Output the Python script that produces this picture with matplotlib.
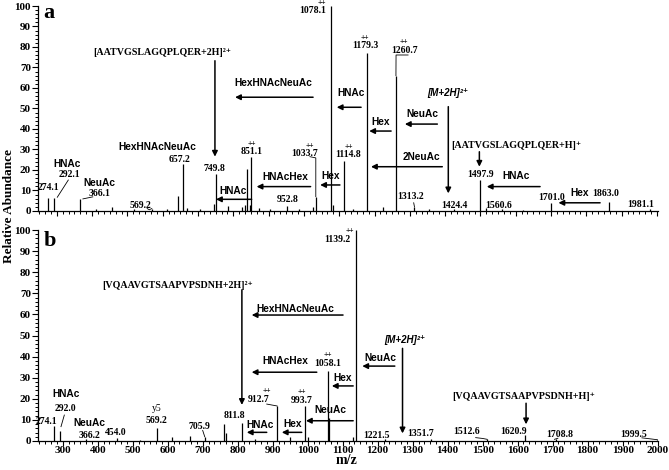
import matplotlib
matplotlib.use("Agg")
import matplotlib.pyplot as plt
from matplotlib.ticker import MultipleLocator, NullFormatter

SERIF = ["Liberation Serif", "DejaVu Serif"]
SANS = ["Liberation Sans", "DejaVu Sans"]

# ---------------- data ----------------
# panel a: m/z and relative abundance
mz_a = [274.1, 292.1, 366.1, 412.0, 455.0, 520.0, 569.2, 612.0, 642.0, 657.2,
        668.0, 705.0, 745.0, 749.8, 786.0, 826.0, 833.0, 840.0, 847.0, 851.1,
        872.0, 905.0, 952.8, 985.0, 1027.0, 1033.7, 1078.1, 1083.0, 1114.8,
        1140.0, 1179.3, 1225.0, 1260.7, 1313.2, 1355.0, 1424.4, 1497.9, 1515.0,
        1560.6, 1620.0, 1701.0, 1863.0, 1981.1]
int_a = [6.5, 6.5, 6.0, 0.8, 2.0, 0.8, 1.2, 1.0, 7.3, 23.0,
         1.5, 0.8, 3.4, 18.0, 2.5, 2.0, 3.0, 20.3, 3.0, 26.5,
         1.5, 1.0, 2.2, 1.0, 2.0, 7.0, 100.0, 3.0, 24.5,
         1.0, 77.0, 2.0, 66.0, 2.0, 1.0, 1.0, 15.0, 1.5,
         0.8, 0.6, 3.8, 4.5, 0.8]

# panel b
mz_b = [274.1, 292.0, 366.2, 454.0, 520.0, 569.2, 611.0, 664.0, 705.9, 760.0,
        767.0, 811.8, 850.0, 912.7, 950.0, 993.7, 1000.0, 1058.1, 1062.0, 1130.0,
        1139.2, 1221.5, 1351.7, 1512.6, 1620.9, 1708.8, 1999.5]
int_b = [7.1, 4.7, 1.0, 1.2, 0.6, 6.0, 1.8, 2.4, 2.0, 7.9,
         4.0, 8.7, 1.0, 16.6, 2.0, 16.5, 2.0, 33.0, 11.0, 2.0,
         100.0, 1.0, 0.8, 0.8, 3.0, 0.8, 0.6]

y_ticks = [0, 10, 20, 30, 40, 50, 60, 70, 80, 90, 100]
x_ticks = [300, 400, 500, 600, 700, 800, 900, 1000, 1100, 1200, 1300, 1400,
           1500, 1600, 1700, 1800, 1900, 2000]

# ---------------- figure ----------------
fig = plt.figure(figsize=(6.69, 4.70), dpi=100)
W, H = 669.0, 470.0
axa = fig.add_axes([38 / W, 1 - 211 / H, 620 / W, 205 / H])
axb = fig.add_axes([38 / W, 1 - 441 / H, 620 / W, 211 / H])


def style_axis(ax, xlim, show_xlabels):
    ax.set_xlim(*xlim)
    ax.set_ylim(0, 100)
    for s in ("top", "right"):
        ax.spines[s].set_visible(False)
    for s in ("left", "bottom"):
        ax.spines[s].set_linewidth(0.9)
    ax.set_yticks(y_ticks)
    ax.set_yticklabels([str(t) for t in y_ticks])
    ax.yaxis.set_minor_locator(MultipleLocator(2))
    ax.set_xticks(x_ticks)
    ax.xaxis.set_minor_locator(MultipleLocator(100 / 6))
    if show_xlabels:
        ax.set_xticklabels([str(t) for t in x_ticks])
    else:
        ax.xaxis.set_major_formatter(NullFormatter())
    ax.tick_params(axis="y", which="major", direction="out", length=4,
                   width=0.8, pad=1)
    ax.tick_params(axis="x", which="major", direction="out", length=3.5,
                   width=0.8, pad=0)
    ax.tick_params(axis="both", which="minor", direction="out", length=2.5,
                   width=0.7)
    for lab in ax.get_xticklabels() + ax.get_yticklabels():
        lab.set_fontfamily(SERIF)
        lab.set_fontweight("bold")
        lab.set_fontsize(8)


style_axis(axa, (246.8, 2003.0), False)
style_axis(axb, (229.4, 2001.0), True)

axa.vlines(mz_a, 0, int_a, color="black", lw=0.9)
axb.vlines(mz_b, 0, int_b, color="black", lw=0.9)


def num(ax, x, y, s, size=7):
    ax.text(x, y, s, ha="center", va="center", fontfamily=SERIF,
            fontweight="bold", fontsize=size, clip_on=False)


def pp(ax, x, y):
    ax.text(x, y, "++", ha="center", va="center", fontfamily=SERIF,
            fontweight="bold", fontsize=5.5, clip_on=False)


def gly(ax, x, y, s):
    ax.text(x, y, s, ha="center", va="center", fontfamily=SANS,
            fontweight="bold", fontsize=7.3, clip_on=False)


def pep(ax, x, y, s):
    ax.text(x, y, s, ha="center", va="center", fontfamily=SERIF,
            fontweight="bold", fontsize=7.2, clip_on=False)


def mion(ax, x, y):
    ax.text(x, y, "[M+2H]²⁺", ha="center", va="center", fontfamily=SANS,
            fontweight="bold", fontstyle="italic", fontsize=7, clip_on=False)


def arrow(ax, x0, y0, x1, y1):
    ax.annotate("", xy=(x1, y1), xytext=(x0, y0),
                arrowprops=dict(arrowstyle="-|>", color="black", lw=1.1,
                                mutation_scale=8, shrinkA=0, shrinkB=0),
                annotation_clip=False)


def conn(ax, xs, ys):
    ax.plot(xs, ys, color="black", lw=0.6, clip_on=False)


# ---------------- panel a annotations ----------------
axa.text(261, 94.0, "a", ha="left", va="baseline", fontfamily=SERIF,
         fontweight="bold", fontsize=16)

num(axa, 1026, 98.0, "1078.1"); pp(axa, 1051, 101.5)
num(axa, 1173, 80.6, "1179.3"); pp(axa, 1173, 84.2)
num(axa, 1284, 78.5, "1260.7"); pp(axa, 1284, 82.3)
conn(axa, [1295, 1261, 1260.7], [76.1, 76.1, 66.0])
num(axa, 1126, 27.8, "1114.8"); pp(axa, 1126, 31.4)
num(axa, 1001, 28.1, "1033.7"); pp(axa, 1017, 31.9)
conn(axa, [1017, 1033.7, 1033.7], [26.5, 25.9, 7.0])
num(axa, 852, 28.9, "851.1"); pp(axa, 852, 32.7)
num(axa, 746, 20.8, "749.8")
num(axa, 649, 25.2, "657.2")
gly(axa, 584, 31.4, "HexHNAcNeuAc")
num(axa, 953, 5.4, "952.8")
num(axa, 536, 2.8, "569.2")
conn(axa, [556, 562, 569.2], [1.2, 0.6, 1.2])
gly(axa, 420, 13.8, "NeuAc")
num(axa, 420, 8.3, "366.1")
conn(axa, [402, 374], [6.9, 5.9])
gly(axa, 328, 22.8, "HNAc")
num(axa, 337, 17.9, "292.1")
conn(axa, [332.6, 301.4], [15.1, 6.7])
num(axa, 276, 11.4, "274.1")

pep(axa, 598, 77.1, "[AATVGSLAGQPLQER+2H]²⁺")
arrow(axa, 748, 73.3, 748, 26.5)
gly(axa, 912, 62.3, "HexHNAcNeuAc")
arrow(axa, 1026, 55.5, 805, 55.5)
gly(axa, 946, 16.7, "HNAcHex")
arrow(axa, 1019, 11.9, 866, 11.9)
gly(axa, 800, 9.9, "HNAc")
arrow(axa, 852, 5.7, 751, 5.7)
gly(axa, 1076, 17.1, "Hex")
arrow(axa, 1102, 12.7, 1046, 12.7)
gly(axa, 1133, 57.4, "HNAc")
arrow(axa, 1162, 50.6, 1093, 50.6)
mion(axa, 1409, 57.4)
arrow(axa, 1409, 50.9, 1409, 8.6)
gly(axa, 1335, 47.2, "NeuAc")
arrow(axa, 1378, 42.4, 1286, 42.4)
gly(axa, 1218, 43.3, "Hex")
arrow(axa, 1247, 39.0, 1185, 39.0)
gly(axa, 1334, 26.5, "2NeuAc")
arrow(axa, 1392, 21.6, 1190, 21.6)
pep(axa, 1603, 31.9, "[AATVGSLAGQPLQER+H]⁺")
arrow(axa, 1497, 28.9, 1497, 21.6)
num(axa, 1499, 17.6, "1497.9")
gly(axa, 1601, 17.2, "HNAc")
arrow(axa, 1669, 11.9, 1518, 11.9)
num(axa, 1303, 7.3, "1313.2")
conn(axa, [1311, 1313.2], [4.0, 2.0])
num(axa, 1426, 2.8, "1424.4")
num(axa, 1551, 2.6, "1560.6")
num(axa, 1701, 6.7, "1701.0")
gly(axa, 1782, 8.9, "Hex")
arrow(axa, 1839, 4.0, 1721, 4.0)
num(axa, 1855, 8.6, "1863.0")
num(axa, 1954, 3.4, "1981.1")

# ---------------- panel b annotations ----------------
axb.text(246.6, 92.5, "b", ha="left", va="baseline", fontfamily=SERIF,
         fontweight="bold", fontsize=16)

num(axb, 1084, 95.3, "1139.2"); pp(axb, 1121, 99.5)
pep(axb, 629, 73.9, "[VQAAVGTSAAPVPSDNH+2H]²⁺")
arrow(axb, 812, 71.6, 812, 17.1)
gly(axb, 964, 62.6, "HexHNAcNeuAc")
arrow(axb, 1101, 59.7, 840, 59.7)
gly(axb, 935, 37.9, "HNAcHex")
arrow(axb, 1026, 32.6, 840, 32.6)
num(axb, 1057, 36.8, "1058.1"); pp(axb, 1057, 40.8)
gly(axb, 1207, 39.2, "NeuAc")
arrow(axb, 1249, 35.5, 1156, 35.5)
mion(axb, 1278, 47.9)
arrow(axb, 1271, 43.9, 1271, 3.6)
gly(axb, 1100, 30.0, "Hex")
arrow(axb, 1130, 26.1, 1069, 26.1)
gly(axb, 1064, 14.7, "NeuAc")
arrow(axb, 1130, 9.6, 995, 9.6)
num(axb, 983, 19.4, "993.7"); pp(axb, 983, 23.4)
num(axb, 859, 19.9, "912.7"); pp(axb, 883, 23.7)
conn(axb, [883, 912.7], [17.5, 16.6])
num(axb, 792, 12.3, "811.8")
gly(axb, 864, 7.6, "HNAc")
arrow(axb, 883, 4.1, 826, 4.1)
gly(axb, 956, 7.9, "Hex")
arrow(axb, 983, 4.1, 926, 4.1)
num(axb, 690, 7.1, "705.9")
conn(axb, [700, 705.9], [5.0, 2.0])
axb.text(569, 15.5, "y5", ha="center", va="center", fontfamily=SERIF,
         fontsize=7)
num(axb, 569, 9.5, "569.2")
num(axb, 452, 4.1, "454.0")
gly(axb, 376, 8.7, "NeuAc")
num(axb, 376, 2.4, "366.2")
gly(axb, 309, 22.1, "HNAc")
num(axb, 309, 15.5, "292.0")
conn(axb, [304.6, 295.1], [12.3, 6.8])
num(axb, 254, 9.1, "274.1")
num(axb, 1197, 2.8, "1221.5")
num(axb, 1324, 3.6, "1351.7")
num(axb, 1454, 4.4, "1512.6")
conn(axb, [1480, 1500, 1512.6], [1.6, 1.2, 0.8])
pep(axb, 1616, 21.0, "[VQAAVGTSAAPVPSDNH+H]⁺")
arrow(axb, 1624, 17.9, 1624, 7.9)
num(axb, 1587, 4.7, "1620.9")
num(axb, 1721, 3.3, "1708.8")
conn(axb, [1705, 1715], [0.8, 1.3])
num(axb, 1930, 3.3, "1999.5")
conn(axb, [1955, 1999.5], [1.5, 0.6])

# ---------------- axis titles ----------------
fig.text(347 / W, 1 - 460 / H, "m/z", ha="center", va="center",
         fontfamily=SERIF, fontweight="bold", fontsize=10)
fig.text(9 / W, 1 - 206 / H, "Relative Abundance", ha="center", va="center",
         rotation=90, fontfamily=SERIF, fontweight="bold", fontsize=9.5)

fig.savefig("out.png", dpi=100)
